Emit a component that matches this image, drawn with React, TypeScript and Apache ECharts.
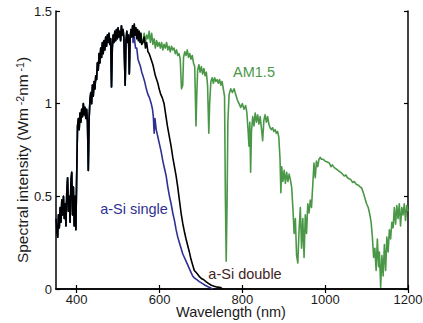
import React, { useEffect, useRef } from "react";
import * as echarts from "echarts";

const xTicks = [400, 600, 800, 1000, 1200];
const yTicks = [0, 0.5, 1, 1.5];

// AM1.5 solar spectrum [wavelength nm, W m^-2 nm^-1]
const am15Spectrum: number[][] = [
  [350, 0.38], [352, 0.3], [354, 0.28], [356, 0.4], [358, 0.33], [360, 0.44], [362, 0.36], [364, 0.48],
  [366, 0.4], [368, 0.5], [370, 0.38], [372, 0.46], [374, 0.34], [376, 0.52], [378, 0.6], [380, 0.42],
  [382, 0.5], [384, 0.36], [386, 0.58], [388, 0.63], [390, 0.4], [392, 0.55], [394, 0.34], [396, 0.5],
  [398, 0.32], [400, 0.62], [402, 0.88], [404, 0.92], [406, 0.86], [408, 0.95], [410, 0.9], [412, 0.97],
  [414, 0.93], [416, 1.0], [418, 0.94], [420, 0.98], [422, 0.92], [424, 0.97], [426, 0.9], [428, 0.64],
  [430, 0.92], [432, 1.02], [434, 1.06], [436, 1.0], [438, 1.1], [440, 1.04], [442, 1.12], [444, 1.08],
  [446, 1.15], [448, 1.13], [450, 1.22], [452, 1.18], [454, 1.27], [456, 1.22], [458, 1.3], [460, 1.25],
  [462, 1.33], [464, 1.27], [466, 1.34], [468, 1.29], [470, 1.36], [472, 1.31], [474, 1.37], [476, 1.33],
  [478, 1.38], [480, 1.32], [482, 1.35], [484, 1.09], [486, 1.3], [488, 1.37], [490, 1.33], [492, 1.39],
  [494, 1.34], [496, 1.4], [498, 1.35], [500, 1.41], [502, 1.36], [504, 1.39], [506, 1.34], [508, 1.42],
  [510, 1.37], [512, 1.4], [514, 1.35], [517, 1.1], [519, 1.34], [521, 1.39], [523, 1.33], [525, 1.37],
  [527, 1.16], [529, 1.35], [531, 1.4], [533, 1.36], [535, 1.42], [537, 1.36], [539, 1.43], [541, 1.37],
  [543, 1.41], [545, 1.35], [547, 1.4], [549, 1.34], [551, 1.39], [553, 1.33], [555, 1.38], [557, 1.32],
  [560, 1.34], [563, 1.38], [566, 1.33], [569, 1.37], [572, 1.35], [575, 1.39], [578, 1.33], [581, 1.38],
  [584, 1.32], [587, 1.35], [590, 1.3], [593, 1.34], [596, 1.31], [599, 1.33], [602, 1.3], [605, 1.33],
  [608, 1.29], [611, 1.32], [614, 1.3], [617, 1.33], [620, 1.29], [623, 1.31], [626, 1.28], [629, 1.31],
  [632, 1.29], [635, 1.3], [638, 1.27], [641, 1.29], [644, 1.26], [647, 1.27], [650, 1.24], [653, 1.08],
  [656, 1.1], [658, 1.25], [661, 1.28], [664, 1.26], [667, 1.29], [670, 1.25], [673, 1.27], [676, 1.24],
  [679, 1.26], [682, 1.22], [685, 1.2], [688, 0.88], [690, 1.05], [692, 1.18], [695, 1.21], [698, 1.17],
  [701, 1.2], [704, 1.16], [707, 1.19], [710, 1.15], [713, 1.17], [716, 1.1], [719, 0.84], [721, 1.0],
  [724, 1.12], [727, 1.14], [730, 1.11], [733, 1.14], [736, 1.12], [739, 1.13], [742, 1.11], [745, 1.13],
  [748, 1.1], [751, 1.12], [754, 1.08], [757, 1.04], [759, 0.5], [761, 0.15], [763, 0.45], [765, 0.9],
  [768, 1.05], [772, 1.08], [776, 1.06], [780, 1.08], [784, 1.05], [788, 1.02], [792, 1.0], [796, 0.98],
  [800, 1.0], [804, 0.97], [808, 0.99], [811, 0.95], [814, 0.85], [816, 0.77], [818, 0.9], [820, 0.63],
  [822, 0.85], [825, 0.93], [828, 0.88], [831, 0.95], [834, 0.9], [837, 0.94], [840, 0.89], [843, 0.93],
  [846, 0.87], [849, 0.8], [852, 0.91], [855, 0.94], [858, 0.9], [861, 0.93], [864, 0.89], [867, 0.87],
  [870, 0.86], [873, 0.87], [876, 0.85], [879, 0.86], [882, 0.84], [885, 0.85], [888, 0.82], [891, 0.7],
  [893, 0.52], [895, 0.66], [898, 0.58], [901, 0.64], [904, 0.57], [907, 0.63], [910, 0.58], [913, 0.62],
  [916, 0.59], [919, 0.55], [922, 0.44], [925, 0.3], [928, 0.38], [931, 0.18], [934, 0.14], [937, 0.32],
  [940, 0.44], [943, 0.22], [946, 0.38], [949, 0.17], [952, 0.4], [955, 0.3], [958, 0.46], [961, 0.41],
  [964, 0.48], [967, 0.44], [970, 0.56], [973, 0.68], [976, 0.6], [979, 0.69], [982, 0.66], [985, 0.7],
  [988, 0.71], [991, 0.7], [995, 0.7], [1000, 0.69], [1005, 0.685], [1010, 0.68], [1014, 0.66], [1017, 0.67],
  [1022, 0.655], [1028, 0.645], [1034, 0.635], [1040, 0.625], [1046, 0.61], [1050, 0.615], [1054, 0.6],
  [1058, 0.595], [1062, 0.59], [1066, 0.575], [1070, 0.58], [1075, 0.565], [1080, 0.56], [1085, 0.55],
  [1088, 0.545], [1092, 0.52], [1096, 0.49], [1100, 0.46], [1104, 0.44], [1108, 0.4], [1111, 0.36],
  [1114, 0.28], [1117, 0.17], [1120, 0.22], [1123, 0.1], [1126, 0.27], [1129, 0.12], [1131, 0.2],
  [1134, 0.01], [1137, 0.18], [1140, 0.07], [1143, 0.24], [1146, 0.1], [1149, 0.28], [1152, 0.2],
  [1155, 0.32], [1158, 0.27], [1161, 0.36], [1164, 0.33], [1167, 0.44], [1170, 0.35], [1173, 0.45],
  [1176, 0.38], [1179, 0.46], [1182, 0.34], [1185, 0.44], [1188, 0.4], [1191, 0.46], [1194, 0.37],
  [1197, 0.45], [1200, 0.42],
];

// a-Si double junction: follows AM1.5 below 560 nm, then this tail
const doubleTail: number[][] = [
  [560, 1.33], [563, 1.36], [566, 1.3], [569, 1.33], [572, 1.28], [575, 1.27], [578, 1.25], [581, 1.23],
  [584, 1.21], [587, 1.18], [590, 1.15], [593, 1.13], [596, 1.11], [599, 1.08], [603, 1.05], [607, 1.03],
  [611, 1.0], [615, 0.94], [619, 0.88], [623, 0.83], [628, 0.77], [632, 0.71], [636, 0.66], [640, 0.61],
  [644, 0.55], [648, 0.48], [652, 0.41], [656, 0.355], [660, 0.31], [664, 0.27], [668, 0.235], [672, 0.2],
  [676, 0.16], [680, 0.13], [684, 0.1], [688, 0.09], [692, 0.08], [697, 0.065], [702, 0.055], [707, 0.05],
  [712, 0.04], [718, 0.03], [725, 0.02], [732, 0.015], [740, 0.01], [748, 0.008], [752, 0.0],
];

// a-Si single junction: follows AM1.5 below 536 nm, then this tail
const singleTail: number[][] = [
  [536, 1.33], [539, 1.36], [542, 1.3], [545, 1.3], [548, 1.24], [551, 1.22], [554, 1.2], [557, 1.17],
  [560, 1.15], [564, 1.12], [568, 1.08], [572, 1.05], [576, 1.03], [580, 1.0], [583, 0.97], [585, 0.93],
  [587, 0.84], [589, 0.92], [592, 0.86], [596, 0.82], [600, 0.78], [604, 0.74], [608, 0.69], [612, 0.65],
  [616, 0.61], [620, 0.55], [624, 0.5], [628, 0.46], [632, 0.41], [636, 0.37], [640, 0.32], [644, 0.28],
  [648, 0.25], [652, 0.22], [656, 0.19], [660, 0.17], [664, 0.15], [668, 0.13], [672, 0.11], [676, 0.09],
  [680, 0.07], [684, 0.06], [690, 0.05], [696, 0.04], [703, 0.03], [710, 0.02], [717, 0.012], [724, 0.005],
  [728, 0.0],
];

const doubleJunction = am15Spectrum.filter(([w]) => w < 560).concat(doubleTail);
const singleJunction = am15Spectrum.filter(([w]) => w < 536).concat(singleTail);

const FONT = "Liberation Sans";
const GREEN = "#4a9847";
const BLUE = "#2e3192";
const DARK = "#3f241d";
const TEXT = "#1a1a1a";

export default function App() {
  const ref = useRef<HTMLDivElement>(null);
  useEffect(() => {
    if (!ref.current) return;
    const chart = echarts.init(ref.current, null, { renderer: "svg" });
    const axisLine = { show: true, lineStyle: { color: "#000", width: 1.5 } };
    const tick = (vals: number[]) => ({
      show: true,
      inside: true,
      length: 4,
      customValues: vals,
      lineStyle: { color: "#000", width: 1.2 },
    });
    const label = (text: string, x: number, y: number, fill: string, size = 14.5) => ({
      type: "text",
      x,
      y,
      style: {
        text,
        fontSize: size,
        lineHeight: 13,
        fontFamily: FONT,
        fill,
        align: "center",
        verticalAlign: "middle",
      },
    });
    chart.setOption({
      animation: false,
      textStyle: { fontFamily: FONT },
      grid: {
        left: 56,
        right: 15,
        top: 11,
        bottom: 34,
        containLabel: false,
        outerBoundsMode: "none",
      },
      xAxis: [
        {
          type: "value",
          min: 350,
          max: 1200,
          position: "bottom",
          axisLine,
          axisTick: tick(xTicks),
          axisLabel: {
            customValues: xTicks,
            formatter: (v: number) => String(v),
            color: TEXT,
            fontSize: 13,
            lineHeight: 11,
            margin: 5,
            fontFamily: FONT,
          },
          splitLine: { show: false },
        },
        {
          type: "value",
          min: 350,
          max: 1200,
          position: "top",
          axisLine,
          axisTick: tick(xTicks),
          axisLabel: { show: false },
          splitLine: { show: false },
        },
      ],
      yAxis: [
        {
          type: "value",
          min: 0,
          max: 1.5,
          interval: 0.5,
          position: "left",
          axisLine,
          axisTick: tick(yTicks),
          axisLabel: {
            color: TEXT,
            fontSize: 13,
            margin: 4,
            fontFamily: FONT,
            formatter: (v: number) => String(v),
          },
          splitLine: { show: false },
        },
        {
          type: "value",
          min: 0,
          max: 1.5,
          interval: 0.5,
          position: "right",
          axisLine,
          axisTick: tick(yTicks),
          axisLabel: { show: false },
          splitLine: { show: false },
        },
      ],
      series: [
        {
          type: "line",
          data: am15Spectrum,
          showSymbol: false,
          lineStyle: { color: GREEN, width: 1.6, join: "round" },
          z: 1,
        },
        {
          type: "line",
          data: singleJunction,
          showSymbol: false,
          lineStyle: { color: BLUE, width: 1.6, join: "round" },
          z: 2,
        },
        {
          type: "line",
          data: doubleJunction,
          showSymbol: false,
          lineStyle: { color: "#000", width: 1.6, join: "round" },
          z: 3,
        },
      ],
      graphic: [
        {
          type: "text",
          x: 22,
          y: 160,
          rotation: Math.PI / 2,
          style: {
            text: "{n|Spectral intensity (Wm}{s| -2}{n|nm}{s| -1}{n|)}",
            align: "center",
            verticalAlign: "middle",
            rich: {
              n: { fontSize: 15.5, fontFamily: FONT, fill: TEXT, verticalAlign: "bottom" },
              s: { fontSize: 10.5, fontFamily: FONT, fill: TEXT, verticalAlign: "top" },
            },
          },
        },
        label("Wavelength (nm)", 231, 312, TEXT, 14.5),
        label("AM1.5", 254, 72, GREEN),
        label("a-Si single", 134, 209, BLUE),
        label("a-Si double", 245, 274, DARK),
      ],
    });
    return () => chart.dispose();
  }, []);
  return (
    <div
      ref={ref}
      style={{ position: "fixed", left: 0, top: 0, width: 423, height: 323, background: "#fff" }}
    />
  );
}
